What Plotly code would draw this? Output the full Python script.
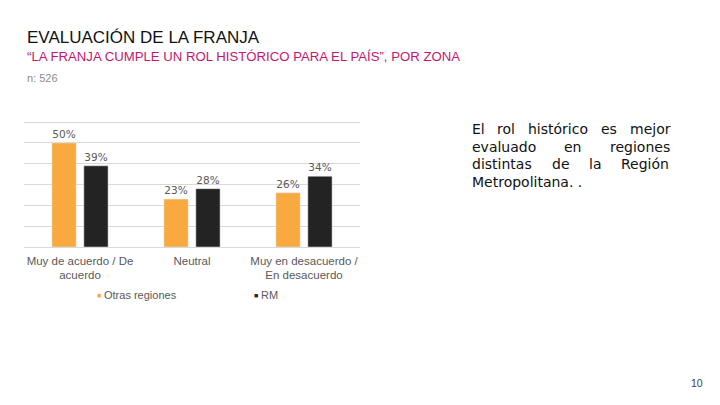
import plotly.graph_objects as go

categories = ["Muy de acuerdo / De<br>acuerdo", "Neutral", "Muy en desacuerdo /<br>En desacuerdo"]
otras_regiones = [50, 23, 26]
rm = [39, 28, 34]
series_names = ["Otras regiones", "RM"]

title = "EVALUACIÓN DE LA FRANJA"
subtitle = "“LA FRANJA CUMPLE UN ROL HISTÓRICO PARA EL PAÍS”, POR ZONA"
n_text = "n: 526"
page_no = "10"
body_lines = [
    ["El", "rol", "histórico", "es", "mejor"],
    ["evaluado", "en", "regiones"],
    ["distintas", "de", "la", "Región"],
    ["Metropolitana. ."],
]

W, H = 720, 405
OFF = 8  # page body margin in the browser
L, R, B = 24, 360, 246.7
PX_PER_UNIT = 125 / 60.0
YMAX = 61
T = B - PX_PER_UNIT * YMAX
ORANGE = "#FAA93F"
BLACK = "#232323"
FONT = "Liberation Sans, Arial, sans-serif"
BODY_FONT = "DejaVu Sans, sans-serif"


def px(x):
    return (x - L) / (R - L)


def py(y):
    return (B - y) / (B - T)


fig = go.Figure()
for vals, name, col in [(otras_regiones, series_names[0], ORANGE), (rm, series_names[1], BLACK)]:
    fig.add_trace(go.Bar(x=categories, y=vals, name=name, marker_color=col,
                         text=[f"{v}%" for v in vals], textposition="outside", cliponaxis=False,
                         textfont=dict(size=10.5, color="#595959", family=BODY_FONT.replace("DejaVu Sans", "DejaVu Sans")),
                         showlegend=False))

fig.update_layout(
    width=W, height=H,
    margin=dict(l=L - OFF, r=W - (R - OFF), t=T - OFF, b=H - (B - OFF), autoexpand=False),
    plot_bgcolor="white", paper_bgcolor="white",
    barmode="group", bargap=0.43, bargroupgap=0.24,
    font=dict(family=FONT, color="#595959"),
    showlegend=False,
)
fig.update_yaxes(range=[0, YMAX], tickvals=[10, 20, 30, 40, 50, 60], showticklabels=False,
                 gridcolor="#d9d9d9", gridwidth=1,
                 zeroline=True, zerolinecolor="#d9d9d9", zerolinewidth=1, fixedrange=True)
fig.update_xaxes(tickfont=dict(size=11.5, color="#595959", family=FONT), ticks="", showline=False,
                 ticklabelstandoff=5)

ann = []


def add(text, x, y, xa, size, color, family=FONT):
    ann.append(dict(text=text, x=px(x), y=py(y), xanchor=xa, yanchor="middle", showarrow=False,
                    xref="paper", yref="paper", borderpad=0, borderwidth=0,
                    font=dict(size=size, color=color, family=family)))


add(title, 27, 37, "left", 17, "#111111")
add(subtitle, 27, 56, "left", 13.2, "#C4186E")
add(n_text, 27, 78, "left", 11, "#8c8c8c")
add(page_no, 703.5, 382.5, "right", 10.5, "#404040")

# justified body text (DejaVu Sans advance widths, units per 2048 em)
DV = {"E": 1294, "l": 569, "r": 842, "o": 1253, "h": 1298, "i": 569, "s": 1067, "t": 803,
      "ó": 1253, "c": 1126, "e": 1260, "m": 1995, "j": 569, "v": 1212, "a": 1255, "u": 1298,
      "d": 1300, "n": 1298, "g": 1300, "R": 1423, "M": 1767, "p": 1300, ".": 651, " ": 651}
BODY_SIZE = 14


def wlen(w):
    return sum(DV.get(ch, 1250) for ch in w) / 2048 * BODY_SIZE


x0, x1 = 472, 670
line_y = [128.4, 146.2, 164.0, 181.8]
for words, yy in zip(body_lines, line_y):
    if len(words) == 1:
        add(words[0], x0, yy, "left", BODY_SIZE, "#111111", BODY_FONT)
        continue
    widths = [wlen(w) for w in words]
    gap = (x1 - x0 - sum(widths)) / (len(words) - 1)
    cur = x0
    for w, wd in zip(words, widths):
        add(w, cur, yy, "left", BODY_SIZE, "#111111", BODY_FONT)
        cur += wd + gap

# legend
for name, color, mx, tx in [(series_names[0], ORANGE, 98.5, 103.5), (series_names[1], BLACK, 255.5, 261)]:
    add("■", mx, 295, "center", 7, color)
    add(name, tx, 294.5, "left", 11, "#595959")

fig.update_layout(annotations=ann)
fig.write_html("out.html")
